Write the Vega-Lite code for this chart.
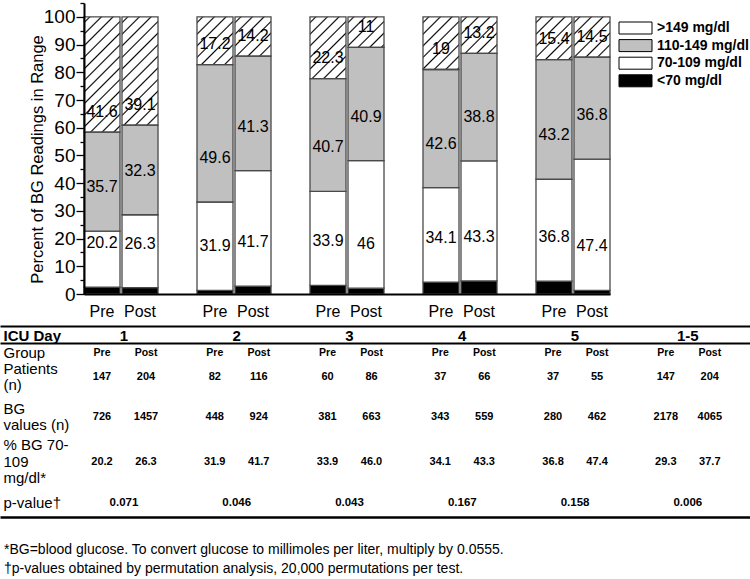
{
  "$schema": "https://vega.github.io/schema/vega-lite/v6.json",
  "padding": {"left": 0, "top": 2, "right": 0, "bottom": 0},
  "autosize": {"type": "pad"},
  "background": "white",
  "config": {"font": "Liberation Sans", "view": {"stroke": null}, "axisY": {"labelOverlap": false}},
  "datasets": {
    "bars": [
      {"day": "1", "phase": "Pre", "range": "<70 mg/dl", "pct": 2.5},
      {"day": "1", "phase": "Pre", "range": "70-109 mg/dl", "pct": 20.2},
      {"day": "1", "phase": "Pre", "range": "110-149 mg/dl", "pct": 35.7},
      {"day": "1", "phase": "Pre", "range": ">149 mg/dl", "pct": 41.6},
      {"day": "1", "phase": "Post", "range": "<70 mg/dl", "pct": 2.3},
      {"day": "1", "phase": "Post", "range": "70-109 mg/dl", "pct": 26.3},
      {"day": "1", "phase": "Post", "range": "110-149 mg/dl", "pct": 32.3},
      {"day": "1", "phase": "Post", "range": ">149 mg/dl", "pct": 39.1},
      {"day": "2", "phase": "Pre", "range": "<70 mg/dl", "pct": 1.3},
      {"day": "2", "phase": "Pre", "range": "70-109 mg/dl", "pct": 31.9},
      {"day": "2", "phase": "Pre", "range": "110-149 mg/dl", "pct": 49.6},
      {"day": "2", "phase": "Pre", "range": ">149 mg/dl", "pct": 17.2},
      {"day": "2", "phase": "Post", "range": "<70 mg/dl", "pct": 2.8},
      {"day": "2", "phase": "Post", "range": "70-109 mg/dl", "pct": 41.7},
      {"day": "2", "phase": "Post", "range": "110-149 mg/dl", "pct": 41.3},
      {"day": "2", "phase": "Post", "range": ">149 mg/dl", "pct": 14.2},
      {"day": "3", "phase": "Pre", "range": "<70 mg/dl", "pct": 3.1},
      {"day": "3", "phase": "Pre", "range": "70-109 mg/dl", "pct": 33.9},
      {"day": "3", "phase": "Pre", "range": "110-149 mg/dl", "pct": 40.7},
      {"day": "3", "phase": "Pre", "range": ">149 mg/dl", "pct": 22.3},
      {"day": "3", "phase": "Post", "range": "<70 mg/dl", "pct": 2.1},
      {"day": "3", "phase": "Post", "range": "70-109 mg/dl", "pct": 46},
      {"day": "3", "phase": "Post", "range": "110-149 mg/dl", "pct": 40.9},
      {"day": "3", "phase": "Post", "range": ">149 mg/dl", "pct": 11},
      {"day": "4", "phase": "Pre", "range": "<70 mg/dl", "pct": 4.3},
      {"day": "4", "phase": "Pre", "range": "70-109 mg/dl", "pct": 34.1},
      {"day": "4", "phase": "Pre", "range": "110-149 mg/dl", "pct": 42.6},
      {"day": "4", "phase": "Pre", "range": ">149 mg/dl", "pct": 19},
      {"day": "4", "phase": "Post", "range": "<70 mg/dl", "pct": 4.7},
      {"day": "4", "phase": "Post", "range": "70-109 mg/dl", "pct": 43.3},
      {"day": "4", "phase": "Post", "range": "110-149 mg/dl", "pct": 38.8},
      {"day": "4", "phase": "Post", "range": ">149 mg/dl", "pct": 13.2},
      {"day": "5", "phase": "Pre", "range": "<70 mg/dl", "pct": 4.6},
      {"day": "5", "phase": "Pre", "range": "70-109 mg/dl", "pct": 36.8},
      {"day": "5", "phase": "Pre", "range": "110-149 mg/dl", "pct": 43.2},
      {"day": "5", "phase": "Pre", "range": ">149 mg/dl", "pct": 15.4},
      {"day": "5", "phase": "Post", "range": "<70 mg/dl", "pct": 1.3},
      {"day": "5", "phase": "Post", "range": "70-109 mg/dl", "pct": 47.4},
      {"day": "5", "phase": "Post", "range": "110-149 mg/dl", "pct": 36.8},
      {"day": "5", "phase": "Post", "range": ">149 mg/dl", "pct": 14.5}
    ],
    "table": [
      {"col": "1", "phase": "Pre", "patients": 147, "bg": 726, "pct": 20.2},
      {"col": "1", "phase": "Post", "patients": 204, "bg": 1457, "pct": 26.3},
      {"col": "2", "phase": "Pre", "patients": 82, "bg": 448, "pct": 31.9},
      {"col": "2", "phase": "Post", "patients": 116, "bg": 924, "pct": 41.7},
      {"col": "3", "phase": "Pre", "patients": 60, "bg": 381, "pct": 33.9},
      {"col": "3", "phase": "Post", "patients": 86, "bg": 663, "pct": 46.0},
      {"col": "4", "phase": "Pre", "patients": 37, "bg": 343, "pct": 34.1},
      {"col": "4", "phase": "Post", "patients": 66, "bg": 559, "pct": 43.3},
      {"col": "5", "phase": "Pre", "patients": 37, "bg": 280, "pct": 36.8},
      {"col": "5", "phase": "Post", "patients": 55, "bg": 462, "pct": 47.4},
      {"col": "1-5", "phase": "Pre", "patients": 147, "bg": 2178, "pct": 29.3},
      {"col": "1-5", "phase": "Post", "patients": 204, "bg": 4065, "pct": 37.7}
    ],
    "pvals": [
      {"col": "1", "p": 0.071},
      {"col": "2", "p": 0.046},
      {"col": "3", "p": 0.043},
      {"col": "4", "p": 0.167},
      {"col": "5", "p": 0.158},
      {"col": "1-5", "p": 0.006}
    ]
  },
  "title": {
    "text": ["*BG=blood glucose. To convert glucose to millimoles per liter, multiply by 0.0555.", "†p-values obtained by permutation analysis, 20,000 permutations per test."],
    "orient": "bottom", "anchor": "start", "align": "left", "baseline": "top",
    "fontSize": 14, "fontWeight": "normal", "color": "black", "lineHeight": 19, "offset": 26, "dx": 4
  },
  "bounds": "flush",
  "spacing": 32,
  "resolve": {"scale": {"x": "independent", "y": "independent", "xOffset": "independent"}},
  "vconcat": [
    {
      "width": 610,
      "height": 291,
      "data": {"name": "bars"},
      "resolve": {"axis": {"y": "independent"}},
      "transform": [
        {"calculate": "indexof(['<70 mg/dl','70-109 mg/dl','110-149 mg/dl','>149 mg/dl'], datum.range)", "as": "ord"},
        {"stack": "pct", "groupby": ["day", "phase"], "sort": [{"field": "ord", "order": "ascending"}], "as": ["y0", "y1"]}
      ],
      "encoding": {
        "x": {"field": "day", "type": "nominal", "scale": {"type": "band", "range": [84, 610], "paddingInner": 0.345, "paddingOuter": 0},
              "axis": {"title": null, "labels": false, "ticks": false, "domainColor": "black", "domainWidth": 2, "zindex": 1}},
        "xOffset": {"field": "phase", "type": "nominal", "scale": {"domain": ["Pre", "Post"], "paddingInner": 0.0526, "paddingOuter": 0}}
      },
      "layer": [
        {
          "transform": [{"filter": "datum.range === '>149 mg/dl'"}],
          "mark": {"type": "bar", "strokeWidth": 0, "fill": {"gradient": "linear", "x1": 0, "y1": 0, "x2": 0.1444, "y2": 1.1113, "stops": [
            {"offset": 0, "color": "#fff"},
            {"offset": 0.0135, "color": "#fff"}, {"offset": 0.0185, "color": "#000"}, {"offset": 0.0235, "color": "#fff"},
            {"offset": 0.0506, "color": "#fff"}, {"offset": 0.0556, "color": "#000"}, {"offset": 0.0606, "color": "#fff"},
            {"offset": 0.0876, "color": "#fff"}, {"offset": 0.0926, "color": "#000"}, {"offset": 0.0976, "color": "#fff"},
            {"offset": 0.1246, "color": "#fff"}, {"offset": 0.1296, "color": "#000"}, {"offset": 0.1346, "color": "#fff"},
            {"offset": 0.1617, "color": "#fff"}, {"offset": 0.1667, "color": "#000"}, {"offset": 0.1717, "color": "#fff"},
            {"offset": 0.1987, "color": "#fff"}, {"offset": 0.2037, "color": "#000"}, {"offset": 0.2087, "color": "#fff"},
            {"offset": 0.2357, "color": "#fff"}, {"offset": 0.2407, "color": "#000"}, {"offset": 0.2457, "color": "#fff"},
            {"offset": 0.2728, "color": "#fff"}, {"offset": 0.2778, "color": "#000"}, {"offset": 0.2828, "color": "#fff"},
            {"offset": 0.3098, "color": "#fff"}, {"offset": 0.3148, "color": "#000"}, {"offset": 0.3198, "color": "#fff"},
            {"offset": 0.3469, "color": "#fff"}, {"offset": 0.3519, "color": "#000"}, {"offset": 0.3569, "color": "#fff"},
            {"offset": 0.3839, "color": "#fff"}, {"offset": 0.3889, "color": "#000"}, {"offset": 0.3939, "color": "#fff"},
            {"offset": 0.4209, "color": "#fff"}, {"offset": 0.4259, "color": "#000"}, {"offset": 0.4309, "color": "#fff"},
            {"offset": 0.4580, "color": "#fff"}, {"offset": 0.4630, "color": "#000"}, {"offset": 0.4680, "color": "#fff"},
            {"offset": 0.4950, "color": "#fff"}, {"offset": 0.5000, "color": "#000"}, {"offset": 0.5050, "color": "#fff"},
            {"offset": 0.5320, "color": "#fff"}, {"offset": 0.5370, "color": "#000"}, {"offset": 0.5420, "color": "#fff"},
            {"offset": 0.5691, "color": "#fff"}, {"offset": 0.5741, "color": "#000"}, {"offset": 0.5791, "color": "#fff"},
            {"offset": 0.6061, "color": "#fff"}, {"offset": 0.6111, "color": "#000"}, {"offset": 0.6161, "color": "#fff"},
            {"offset": 0.6431, "color": "#fff"}, {"offset": 0.6481, "color": "#000"}, {"offset": 0.6531, "color": "#fff"},
            {"offset": 0.6802, "color": "#fff"}, {"offset": 0.6852, "color": "#000"}, {"offset": 0.6902, "color": "#fff"},
            {"offset": 0.7172, "color": "#fff"}, {"offset": 0.7222, "color": "#000"}, {"offset": 0.7272, "color": "#fff"},
            {"offset": 0.7543, "color": "#fff"}, {"offset": 0.7593, "color": "#000"}, {"offset": 0.7643, "color": "#fff"},
            {"offset": 0.7913, "color": "#fff"}, {"offset": 0.7963, "color": "#000"}, {"offset": 0.8013, "color": "#fff"},
            {"offset": 0.8283, "color": "#fff"}, {"offset": 0.8333, "color": "#000"}, {"offset": 0.8383, "color": "#fff"},
            {"offset": 0.8654, "color": "#fff"}, {"offset": 0.8704, "color": "#000"}, {"offset": 0.8754, "color": "#fff"},
            {"offset": 0.9024, "color": "#fff"}, {"offset": 0.9074, "color": "#000"}, {"offset": 0.9124, "color": "#fff"},
            {"offset": 0.9394, "color": "#fff"}, {"offset": 0.9444, "color": "#000"}, {"offset": 0.9494, "color": "#fff"},
            {"offset": 0.9765, "color": "#fff"}, {"offset": 0.9815, "color": "#000"}, {"offset": 0.9865, "color": "#fff"},
            {"offset": 1, "color": "#fff"}
          ]}},
          "encoding": {
            "y": {"datum": 100, "type": "quantitative", "title": "Percent of BG Readings in Range",
                  "scale": {"domain": [0, 105], "nice": false, "zero": true},
                  "axis": {
                    "title": "Percent of BG Readings in Range", "orient": "left",
                    "values": [0, 10, 20, 30, 40, 50, 60, 70, 80, 90, 100],
                    "tickSize": 8, "tickWidth": 1.3, "tickColor": "black",
                    "offset": -84, "domainColor": "black", "domainWidth": 2,
                    "labelFontSize": 19, "labelColor": "black", "labelPadding": 1, "labelOverlap": false,
                    "titleFontSize": 16.5, "titleFontWeight": "normal", "titleColor": "black", "titlePadding": -2, "titleY": 156,
                    "grid": false, "zindex": 1
                  }},
            "y2": {"datum": 0}
          }
        },
        {
          "transform": [{"filter": "datum.range !== '>149 mg/dl'"}],
          "mark": {"type": "bar", "stroke": "#4a4a4a", "strokeWidth": 1.3},
          "encoding": {
            "y": {"field": "y0", "type": "quantitative", "axis": null},
            "y2": {"field": "y1"},
            "fill": {
              "field": "range", "type": "nominal",
              "scale": {"domain": [">149 mg/dl", "110-149 mg/dl", "70-109 mg/dl", "<70 mg/dl"], "range": ["#ffffff", "#c0c0c0", "#ffffff", "#000000"]},
              "legend": {
                "title": null, "orient": "none", "legendX": 639, "legendY": 18,
                "symbolType": "M-4.5,-1H1V1H-4.5Z", "symbolSize": 144,
                "symbolStrokeColor": "black", "symbolStrokeWidth": 1,
                "labelFontSize": 14, "labelFontWeight": "bold", "labelColor": "black", "labelOffset": 4,
                "rowPadding": 1.6, "padding": 0
              }
            }
          }
        },
        {
          "transform": [{"filter": "datum.range === '>149 mg/dl'"}],
          "mark": {"type": "bar", "fill": "transparent", "stroke": "#4a4a4a", "strokeWidth": 1.3},
          "encoding": {
            "y": {"field": "y0", "type": "quantitative", "axis": null},
            "y2": {"field": "y1"}
          }
        },
        {
          "transform": [{"filter": "datum.range === '70-109 mg/dl' || datum.range === '110-149 mg/dl'"}],
          "mark": {"type": "text", "fontSize": 16, "baseline": "middle", "dy": -44, "color": "black"},
          "encoding": {
            "y": {"field": "y0", "type": "quantitative", "axis": null},
            "text": {"field": "pct", "type": "quantitative"}
          }
        },
        {
          "transform": [{"filter": "datum.range === '>149 mg/dl'"}],
          "mark": {"type": "text", "fontSize": 16, "baseline": "middle", "dy": -20.5, "color": "black"},
          "encoding": {
            "y": {"field": "y0", "type": "quantitative", "axis": null},
            "text": {"field": "pct", "type": "quantitative"}
          }
        },
        {
          "transform": [{"filter": "datum.range === '<70 mg/dl'"}],
          "mark": {"type": "text", "fontSize": 16, "baseline": "alphabetic", "dy": 23, "color": "black"},
          "encoding": {
            "y": {"datum": 0, "type": "quantitative",
                  "axis": {"title": null, "orient": "left", "values": [5, 15, 25, 35, 45, 55, 65, 75, 85, 95, 105],
                           "tickSize": 4, "tickWidth": 1.3, "tickColor": "black", "offset": -84,
                           "domain": false, "labels": false, "grid": false, "zindex": 1}},
            "text": {"field": "phase"}
          }
        }
      ]
    },
    {
      "bounds": "flush",
      "spacing": 0,
      "resolve": {"scale": {"x": "independent", "y": "independent", "xOffset": "independent"}},
      "vconcat": [
        {
          "width": 750, "height": 17,
          "data": {"name": "pvals"},
          "mark": {"type": "text", "fontSize": 15, "fontWeight": "bold", "color": "black"},
          "encoding": {
            "x": {"field": "col", "type": "nominal", "scale": {"type": "band", "domain": ["1", "2", "3", "4", "5", "1-5"], "paddingInner": 0, "paddingOuter": 0.3257, "align": 0.9207},
                  "axis": {"orient": "top", "title": null, "labels": false, "ticks": false, "domainColor": "black", "domainWidth": 2}},
            "y": {"datum": "ICU Day", "type": "nominal", "scale": {"type": "band", "paddingInner": 0, "paddingOuter": 0.3, "align": 0.735},
                  "axis": {"title": null, "domain": false, "ticks": false, "labelAlign": "left", "labelPadding": -3, "labelFontSize": 15, "labelFontWeight": "bold", "labelColor": "black", "labelLimit": 300}},
            "text": {"field": "col"}
          }
        },
        {
          "width": 750, "height": 19,
          "data": {"name": "table"},
          "mark": {"type": "text", "fontSize": 10.5, "fontWeight": "bold", "color": "black"},
          "encoding": {
            "x": {"field": "col", "type": "nominal", "scale": {"type": "band", "domain": ["1", "2", "3", "4", "5", "1-5"], "paddingInner": 0, "paddingOuter": 0.3257, "align": 0.9207},
                  "axis": {"orient": "top", "title": null, "labels": false, "ticks": false, "domainColor": "black", "domainWidth": 2}},
            "xOffset": {"field": "phase", "type": "nominal", "scale": {"type": "band", "domain": ["Pre", "Post"], "paddingInner": 0, "paddingOuter": 0.2814}},
            "y": {"datum": "Group", "type": "nominal", "scale": {"type": "band", "paddingInner": 0, "paddingOuter": 0},
                  "axis": {"title": null, "domain": false, "ticks": false, "labelAlign": "left", "labelPadding": -3, "labelFontSize": 15, "labelColor": "black", "labelLimit": 300}},
            "text": {"field": "phase"}
          }
        },
        {
          "width": 750, "height": 29,
          "data": {"name": "table"},
          "mark": {"type": "text", "fontSize": 11, "fontWeight": "bold", "color": "black"},
          "encoding": {
            "x": {"field": "col", "type": "nominal", "scale": {"type": "band", "domain": ["1", "2", "3", "4", "5", "1-5"], "paddingInner": 0, "paddingOuter": 0.3257, "align": 0.9207}, "axis": null},
            "xOffset": {"field": "phase", "type": "nominal", "scale": {"type": "band", "domain": ["Pre", "Post"], "paddingInner": 0, "paddingOuter": 0.2814}},
            "y": {"datum": "Patients (n)", "type": "nominal", "scale": {"type": "band", "paddingInner": 0, "paddingOuter": 0},
                  "axis": {"title": null, "domain": false, "ticks": false, "labelAlign": "left", "labelPadding": -3, "labelFontSize": 15, "labelColor": "black", "labelLimit": 300, "labelLineHeight": 16, "labelOffset": -8, "labelExpr": "['Patients', '(n)']"}},
            "text": {"field": "patients"}
          }
        },
        {
          "width": 750, "height": 51,
          "data": {"name": "table"},
          "mark": {"type": "text", "fontSize": 11, "fontWeight": "bold", "color": "black"},
          "encoding": {
            "x": {"field": "col", "type": "nominal", "scale": {"type": "band", "domain": ["1", "2", "3", "4", "5", "1-5"], "paddingInner": 0, "paddingOuter": 0.3257, "align": 0.9207}, "axis": null},
            "xOffset": {"field": "phase", "type": "nominal", "scale": {"type": "band", "domain": ["Pre", "Post"], "paddingInner": 0, "paddingOuter": 0.2814}},
            "y": {"datum": "BG values (n)", "type": "nominal", "scale": {"type": "band", "paddingInner": 0, "paddingOuter": 0},
                  "axis": {"title": null, "domain": false, "ticks": false, "labelAlign": "left", "labelPadding": -3, "labelFontSize": 15, "labelColor": "black", "labelLimit": 300, "labelLineHeight": 16, "labelOffset": -8, "labelExpr": "['BG', 'values (n)']"}},
            "text": {"field": "bg"}
          }
        },
        {
          "width": 750, "height": 39,
          "data": {"name": "table"},
          "mark": {"type": "text", "fontSize": 11, "fontWeight": "bold", "color": "black"},
          "encoding": {
            "x": {"field": "col", "type": "nominal", "scale": {"type": "band", "domain": ["1", "2", "3", "4", "5", "1-5"], "paddingInner": 0, "paddingOuter": 0.3257, "align": 0.9207}, "axis": null},
            "xOffset": {"field": "phase", "type": "nominal", "scale": {"type": "band", "domain": ["Pre", "Post"], "paddingInner": 0, "paddingOuter": 0.2814}},
            "y": {"datum": "% BG 70-109 mg/dl*", "type": "nominal", "scale": {"type": "band", "paddingInner": 0, "paddingOuter": 0},
                  "axis": {"title": null, "domain": false, "ticks": false, "labelAlign": "left", "labelPadding": -3, "labelFontSize": 15, "labelColor": "black", "labelLimit": 300, "labelLineHeight": 16.5, "labelOffset": -16.5, "labelExpr": "['% BG 70-', '109', 'mg/dl*']"}},
            "text": {"field": "pct", "type": "quantitative", "format": ".1f"}
          }
        },
        {
          "width": 750, "height": 36,
          "data": {"name": "pvals"},
          "mark": {"type": "text", "fontSize": 11.5, "fontWeight": "bold", "color": "black"},
          "encoding": {
            "x": {"field": "col", "type": "nominal", "scale": {"type": "band", "domain": ["1", "2", "3", "4", "5", "1-5"], "paddingInner": 0, "paddingOuter": 0.3257, "align": 0.9207},
                  "axis": {"orient": "bottom", "title": null, "labels": false, "ticks": false, "domainColor": "black", "domainWidth": 2.5}},
            "y": {"datum": "p-value†", "type": "nominal", "scale": {"type": "band", "paddingInner": 0, "paddingOuter": 0.3, "align": 0.796},
                  "axis": {"title": null, "domain": false, "ticks": false, "labelAlign": "left", "labelPadding": -3, "labelFontSize": 15, "labelColor": "black", "labelLimit": 300}},
            "text": {"field": "p", "type": "quantitative", "format": ".3f"}
          }
        }
      ]
    }
  ]
}
